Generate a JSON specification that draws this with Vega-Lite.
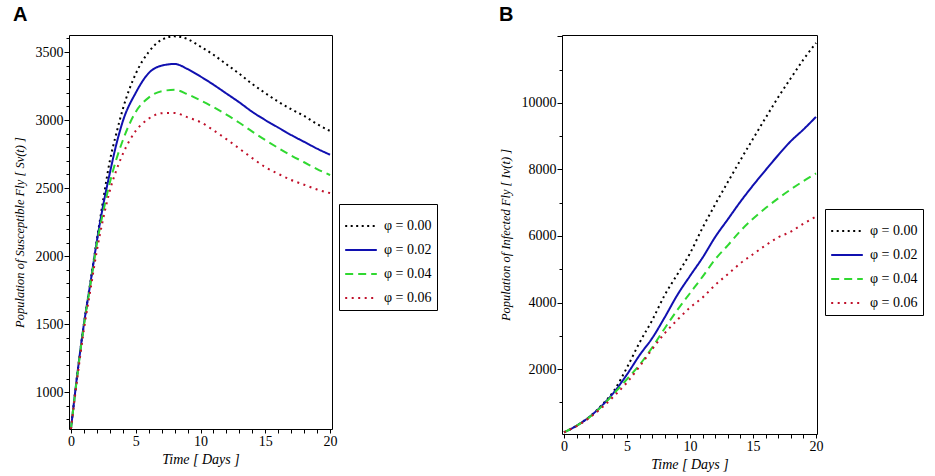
{
  "$schema": "https://vega.github.io/schema/vega-lite/v6.json",
  "background": "white",
  "padding": {"left": 12, "top": 4, "right": 5, "bottom": 0},
  "spacing": 60,
  "config": {
    "view": {"stroke": "black", "strokeWidth": 1},
    "axis": {
      "domain": false, "grid": false, "tickColor": "black", "labelColor": "black", "titleColor": "black",
      "labelFont": "Liberation Serif", "labelFontSize": 14, "titleFont": "Liberation Serif",
      "titleFontStyle": "italic", "titleFontWeight": "normal", "titleFontSize": 14, "labelPadding": 1
    },
    "axisX": {"titlePadding": 4},
    "axisY": {"titleFontSize": 12.5, "titlePadding": 9}
  },
  "datasets": {
    "A": [
      {"t":0,"phi":"φ = 0.00","v":730},{"t":0.5,"phi":"φ = 0.00","v":1140},{"t":1,"phi":"φ = 0.00","v":1500},{"t":1.5,"phi":"φ = 0.00","v":1810},{"t":2,"phi":"φ = 0.00","v":2120},{"t":2.5,"phi":"φ = 0.00","v":2420},{"t":3,"phi":"φ = 0.00","v":2700},{"t":3.5,"phi":"φ = 0.00","v":2900},{"t":4,"phi":"φ = 0.00","v":3080},{"t":5,"phi":"φ = 0.00","v":3340},{"t":6,"phi":"φ = 0.00","v":3500},{"t":7,"phi":"φ = 0.00","v":3590},{"t":8,"phi":"φ = 0.00","v":3615},{"t":9,"phi":"φ = 0.00","v":3595},{"t":10,"phi":"φ = 0.00","v":3540},{"t":11,"phi":"φ = 0.00","v":3480},{"t":12,"phi":"φ = 0.00","v":3410},{"t":13,"phi":"φ = 0.00","v":3340},{"t":14,"phi":"φ = 0.00","v":3265},{"t":15,"phi":"φ = 0.00","v":3198},{"t":16,"phi":"φ = 0.00","v":3135},{"t":17,"phi":"φ = 0.00","v":3080},{"t":18,"phi":"φ = 0.00","v":3030},{"t":19,"phi":"φ = 0.00","v":2970},{"t":20,"phi":"φ = 0.00","v":2920},
      {"t":0,"phi":"φ = 0.02","v":730},{"t":0.5,"phi":"φ = 0.02","v":1140},{"t":1,"phi":"φ = 0.02","v":1500},{"t":1.5,"phi":"φ = 0.02","v":1800},{"t":2,"phi":"φ = 0.02","v":2110},{"t":2.5,"phi":"φ = 0.02","v":2380},{"t":3,"phi":"φ = 0.02","v":2610},{"t":3.5,"phi":"φ = 0.02","v":2820},{"t":4,"phi":"φ = 0.02","v":2990},{"t":5,"phi":"φ = 0.02","v":3200},{"t":6,"phi":"φ = 0.02","v":3345},{"t":7,"phi":"φ = 0.02","v":3400},{"t":8,"phi":"φ = 0.02","v":3412},{"t":9,"phi":"φ = 0.02","v":3375},{"t":10,"phi":"φ = 0.02","v":3320},{"t":11,"phi":"φ = 0.02","v":3260},{"t":12,"phi":"φ = 0.02","v":3195},{"t":13,"phi":"φ = 0.02","v":3130},{"t":14,"phi":"φ = 0.02","v":3060},{"t":15,"phi":"φ = 0.02","v":3000},{"t":16,"phi":"φ = 0.02","v":2945},{"t":17,"phi":"φ = 0.02","v":2890},{"t":18,"phi":"φ = 0.02","v":2840},{"t":19,"phi":"φ = 0.02","v":2790},{"t":20,"phi":"φ = 0.02","v":2745},
      {"t":0,"phi":"φ = 0.04","v":730},{"t":0.5,"phi":"φ = 0.04","v":1130},{"t":1,"phi":"φ = 0.04","v":1490},{"t":1.5,"phi":"φ = 0.04","v":1790},{"t":2,"phi":"φ = 0.04","v":2090},{"t":2.5,"phi":"φ = 0.04","v":2330},{"t":3,"phi":"φ = 0.04","v":2540},{"t":3.5,"phi":"φ = 0.04","v":2710},{"t":4,"phi":"φ = 0.04","v":2850},{"t":5,"phi":"φ = 0.04","v":3060},{"t":6,"phi":"φ = 0.04","v":3165},{"t":7,"phi":"φ = 0.04","v":3212},{"t":8,"phi":"φ = 0.04","v":3222},{"t":9,"phi":"φ = 0.04","v":3190},{"t":10,"phi":"φ = 0.04","v":3145},{"t":11,"phi":"φ = 0.04","v":3095},{"t":12,"phi":"φ = 0.04","v":3040},{"t":13,"phi":"φ = 0.04","v":2980},{"t":14,"phi":"φ = 0.04","v":2915},{"t":15,"phi":"φ = 0.04","v":2853},{"t":16,"phi":"φ = 0.04","v":2795},{"t":17,"phi":"φ = 0.04","v":2740},{"t":18,"phi":"φ = 0.04","v":2690},{"t":19,"phi":"φ = 0.04","v":2640},{"t":20,"phi":"φ = 0.04","v":2596},
      {"t":0,"phi":"φ = 0.06","v":730},{"t":0.5,"phi":"φ = 0.06","v":1110},{"t":1,"phi":"φ = 0.06","v":1460},{"t":1.5,"phi":"φ = 0.06","v":1750},{"t":2,"phi":"φ = 0.06","v":2040},{"t":2.5,"phi":"φ = 0.06","v":2280},{"t":3,"phi":"φ = 0.06","v":2480},{"t":3.5,"phi":"φ = 0.06","v":2630},{"t":4,"phi":"φ = 0.06","v":2750},{"t":5,"phi":"φ = 0.06","v":2920},{"t":6,"phi":"φ = 0.06","v":3010},{"t":7,"phi":"φ = 0.06","v":3050},{"t":8,"phi":"φ = 0.06","v":3052},{"t":9,"phi":"φ = 0.06","v":3020},{"t":10,"phi":"φ = 0.06","v":2985},{"t":11,"phi":"φ = 0.06","v":2925},{"t":12,"phi":"φ = 0.06","v":2860},{"t":13,"phi":"φ = 0.06","v":2790},{"t":14,"phi":"φ = 0.06","v":2720},{"t":15,"phi":"φ = 0.06","v":2654},{"t":16,"phi":"φ = 0.06","v":2605},{"t":17,"phi":"φ = 0.06","v":2560},{"t":18,"phi":"φ = 0.06","v":2525},{"t":19,"phi":"φ = 0.06","v":2490},{"t":20,"phi":"φ = 0.06","v":2463}
    ],
    "B": [
      {"t":0,"phi":"φ = 0.00","v":100},{"t":1,"phi":"φ = 0.00","v":300},{"t":2,"phi":"φ = 0.00","v":560},{"t":3,"phi":"φ = 0.00","v":920},{"t":4,"phi":"φ = 0.00","v":1370},{"t":5,"phi":"φ = 0.00","v":2050},{"t":6,"phi":"φ = 0.00","v":2800},{"t":7,"phi":"φ = 0.00","v":3470},{"t":8,"phi":"φ = 0.00","v":4230},{"t":9,"phi":"φ = 0.00","v":4850},{"t":10,"phi":"φ = 0.00","v":5480},{"t":11,"phi":"φ = 0.00","v":6250},{"t":12,"phi":"φ = 0.00","v":6950},{"t":13,"phi":"φ = 0.00","v":7620},{"t":14,"phi":"φ = 0.00","v":8280},{"t":15,"phi":"φ = 0.00","v":8920},{"t":16,"phi":"φ = 0.00","v":9550},{"t":17,"phi":"φ = 0.00","v":10170},{"t":18,"phi":"φ = 0.00","v":10740},{"t":19,"phi":"φ = 0.00","v":11300},{"t":20,"phi":"φ = 0.00","v":11800},
      {"t":0,"phi":"φ = 0.02","v":100},{"t":1,"phi":"φ = 0.02","v":300},{"t":2,"phi":"φ = 0.02","v":560},{"t":3,"phi":"φ = 0.02","v":900},{"t":4,"phi":"φ = 0.02","v":1320},{"t":5,"phi":"φ = 0.02","v":1840},{"t":6,"phi":"φ = 0.02","v":2420},{"t":7,"phi":"φ = 0.02","v":2930},{"t":8,"phi":"φ = 0.02","v":3560},{"t":9,"phi":"φ = 0.02","v":4230},{"t":10,"phi":"φ = 0.02","v":4800},{"t":11,"phi":"φ = 0.02","v":5350},{"t":12,"phi":"φ = 0.02","v":5970},{"t":13,"phi":"φ = 0.02","v":6500},{"t":14,"phi":"φ = 0.02","v":7030},{"t":15,"phi":"φ = 0.02","v":7520},{"t":16,"phi":"φ = 0.02","v":7980},{"t":17,"phi":"φ = 0.02","v":8430},{"t":18,"phi":"φ = 0.02","v":8850},{"t":19,"phi":"φ = 0.02","v":9200},{"t":20,"phi":"φ = 0.02","v":9580},
      {"t":0,"phi":"φ = 0.04","v":100},{"t":1,"phi":"φ = 0.04","v":300},{"t":2,"phi":"φ = 0.04","v":550},{"t":3,"phi":"φ = 0.04","v":880},{"t":4,"phi":"φ = 0.04","v":1280},{"t":5,"phi":"φ = 0.04","v":1700},{"t":6,"phi":"φ = 0.04","v":2130},{"t":7,"phi":"φ = 0.04","v":2650},{"t":8,"phi":"φ = 0.04","v":3230},{"t":9,"phi":"φ = 0.04","v":3780},{"t":10,"phi":"φ = 0.04","v":4280},{"t":11,"phi":"φ = 0.04","v":4780},{"t":12,"phi":"φ = 0.04","v":5300},{"t":13,"phi":"φ = 0.04","v":5720},{"t":14,"phi":"φ = 0.04","v":6150},{"t":15,"phi":"φ = 0.04","v":6520},{"t":16,"phi":"φ = 0.04","v":6840},{"t":17,"phi":"φ = 0.04","v":7130},{"t":18,"phi":"φ = 0.04","v":7400},{"t":19,"phi":"φ = 0.04","v":7650},{"t":20,"phi":"φ = 0.04","v":7880},
      {"t":0,"phi":"φ = 0.06","v":100},{"t":1,"phi":"φ = 0.06","v":290},{"t":2,"phi":"φ = 0.06","v":530},{"t":3,"phi":"φ = 0.06","v":840},{"t":4,"phi":"φ = 0.06","v":1200},{"t":5,"phi":"φ = 0.06","v":1600},{"t":6,"phi":"φ = 0.06","v":2080},{"t":7,"phi":"φ = 0.06","v":2600},{"t":8,"phi":"φ = 0.06","v":3080},{"t":9,"phi":"φ = 0.06","v":3480},{"t":10,"phi":"φ = 0.06","v":3850},{"t":11,"phi":"φ = 0.06","v":4150},{"t":12,"phi":"φ = 0.06","v":4530},{"t":13,"phi":"φ = 0.06","v":4850},{"t":14,"phi":"φ = 0.06","v":5180},{"t":15,"phi":"φ = 0.06","v":5450},{"t":16,"phi":"φ = 0.06","v":5720},{"t":17,"phi":"φ = 0.06","v":5960},{"t":18,"phi":"φ = 0.06","v":6130},{"t":19,"phi":"φ = 0.06","v":6370},{"t":20,"phi":"φ = 0.06","v":6580}
    ]
  },
  "hconcat": [
    {
      "title": {"text": "A", "anchor": "start", "frame": "bounds", "font": "Liberation Sans", "fontSize": 20, "fontWeight": "bold", "offset": 10, "color": "black"},
      "width": 263,
      "height": 394,
      "data": {"name": "A"},
      "mark": {"type": "line", "strokeWidth": 2, "interpolate": "monotone", "clip": true},
      "encoding": {
        "x": {
          "field": "t", "type": "quantitative",
          "scale": {"domain": [-0.15, 20.15], "nice": false, "zero": false},
          "axis": {
            "title": "Time [ Days ]",
            "labelFont": "Liberation Serif",
            "values": [0,1,2,3,4,5,6,7,8,9,10,11,12,13,14,15,16,17,18,19,20],
            "labelExpr": "datum.value % 5 === 0 ? datum.label : ''",
            "tickSize": 4
          }
        },
        "y": {
          "field": "v", "type": "quantitative",
          "scale": {"domain": [730, 3625], "nice": false, "zero": false},
          "axis": {
            "title": "Population of Susceptible Fly [ Sv(t) ]",
            "labelFont": "Liberation Serif",
            "format": "d",
            "values": [800,900,1000,1100,1200,1300,1400,1500,1600,1700,1800,1900,2000,2100,2200,2300,2400,2500,2600,2700,2800,2900,3000,3100,3200,3300,3400,3500,3600],
            "labelExpr": "datum.value % 500 === 0 ? datum.label : ''",
            "tickSize": {"condition": {"test": "datum.value % 500 === 0", "value": 5}, "value": 3}
          }
        },
        "color": {
          "field": "phi", "type": "nominal",
          "scale": {"domain": ["φ = 0.00", "φ = 0.02", "φ = 0.04", "φ = 0.06"], "range": ["#000000", "#1010b0", "#30d830", "#c0102a"]},
          "legend": {"title": null, "orient": "none", "legendX": 270, "legendY": 169, "symbolType": "stroke", "symbolSize": 1000, "symbolStrokeWidth": 2, "labelFont": "Liberation Serif", "labelFontSize": 14, "labelColor": "black", "strokeColor": "black", "fillColor": "white", "padding": 5, "rowPadding": -7, "labelOffset": 6}
        },
        "strokeDash": {
          "field": "phi", "type": "nominal",
          "scale": {"domain": ["φ = 0.00", "φ = 0.02", "φ = 0.04", "φ = 0.06"], "range": [[2, 3.5], [1, 0], [8, 5], [2, 4.5]]},
          "legend": {"title": null, "orient": "none", "legendX": 270, "legendY": 169, "symbolType": "stroke", "symbolSize": 1000, "symbolStrokeWidth": 2, "labelFont": "Liberation Serif", "labelFontSize": 14, "labelColor": "black", "strokeColor": "black", "fillColor": "white", "padding": 5, "rowPadding": -7, "labelOffset": 6}
        }
      }
    },
    {
      "title": {"text": "B", "anchor": "start", "frame": "bounds", "font": "Liberation Sans", "fontSize": 20, "fontWeight": "bold", "offset": 10, "color": "black"},
      "width": 255,
      "height": 399,
      "data": {"name": "B"},
      "mark": {"type": "line", "strokeWidth": 2, "interpolate": "monotone", "clip": true},
      "encoding": {
        "x": {
          "field": "t", "type": "quantitative",
          "scale": {"domain": [-0.16, 20.08], "nice": false, "zero": false},
          "axis": {
            "title": "Time [ Days ]",
            "labelFont": "Liberation Serif",
            "values": [0,1,2,3,4,5,6,7,8,9,10,11,12,13,14,15,16,17,18,19,20],
            "labelExpr": "datum.value % 5 === 0 ? datum.label : ''",
            "tickSize": 4
          }
        },
        "y": {
          "field": "v", "type": "quantitative",
          "scale": {"domain": [50, 12040], "nice": false, "zero": false},
          "axis": {
            "title": "Population of Infected Fly [ Iv(t) ]",
            "labelFont": "Liberation Serif",
            "format": "d",
            "values": [1000,2000,3000,4000,5000,6000,7000,8000,9000,10000,11000,12000],
            "labelExpr": "datum.value % 2000 === 0 && datum.value <= 10000 ? datum.label : ''",
            "tickSize": {"condition": {"test": "datum.value % 2000 === 0", "value": 5}, "value": 3}
          }
        },
        "color": {
          "field": "phi", "type": "nominal",
          "scale": {"domain": ["φ = 0.00", "φ = 0.02", "φ = 0.04", "φ = 0.06"], "range": ["#000000", "#1010b0", "#30d830", "#c0102a"]},
          "legend": {"title": null, "orient": "none", "legendX": 263, "legendY": 174, "symbolType": "stroke", "symbolSize": 1000, "symbolStrokeWidth": 2, "labelFont": "Liberation Serif", "labelFontSize": 14, "labelColor": "black", "strokeColor": "black", "fillColor": "white", "padding": 5, "rowPadding": -7, "labelOffset": 6}
        },
        "strokeDash": {
          "field": "phi", "type": "nominal",
          "scale": {"domain": ["φ = 0.00", "φ = 0.02", "φ = 0.04", "φ = 0.06"], "range": [[2, 3.5], [1, 0], [8, 5], [2, 4.5]]},
          "legend": {"title": null, "orient": "none", "legendX": 263, "legendY": 174, "symbolType": "stroke", "symbolSize": 1000, "symbolStrokeWidth": 2, "labelFont": "Liberation Serif", "labelFontSize": 14, "labelColor": "black", "strokeColor": "black", "fillColor": "white", "padding": 5, "rowPadding": -7, "labelOffset": 6}
        }
      }
    }
  ],
  "resolve": {
    "scale": {"color": "independent", "strokeDash": "independent", "x": "independent", "y": "independent"},
    "legend": {"color": "independent", "strokeDash": "independent"}
  }
}
